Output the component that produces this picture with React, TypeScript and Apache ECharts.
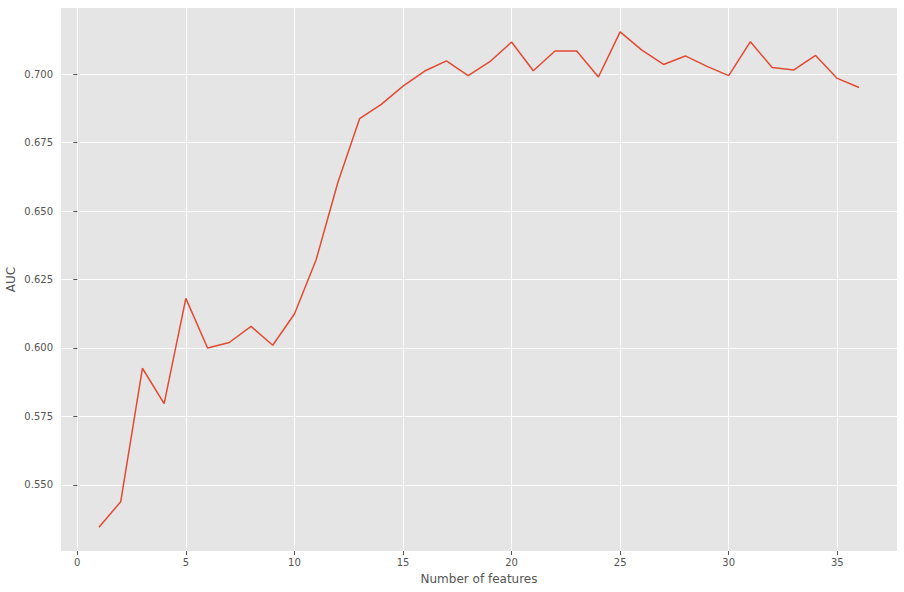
import React, { useEffect, useRef } from "react";
import * as echarts from "echarts";

const featureCounts = [
  1, 2, 3, 4, 5, 6, 7, 8, 9, 10, 11, 12, 13, 14, 15, 16, 17, 18,
  19, 20, 21, 22, 23, 24, 25, 26, 27, 28, 29, 30, 31, 32, 33, 34, 35, 36,
];
const aucValues = [
  0.5346, 0.5439, 0.5926, 0.5797, 0.6181, 0.6, 0.602, 0.6079, 0.601, 0.6124,
  0.6322, 0.6604, 0.6837, 0.6889, 0.6956, 0.7011, 0.7048, 0.6994, 0.7045,
  0.7117, 0.7012, 0.7084, 0.7084, 0.6989, 0.7154, 0.7087, 0.7035, 0.7066,
  0.7028, 0.6994, 0.7118, 0.7024, 0.7015, 0.7068, 0.6984, 0.6951,
];
const xTicks = [0, 5, 10, 15, 20, 25, 30, 35];
const yTicks = [0.55, 0.575, 0.6, 0.625, 0.65, 0.675, 0.7];
const xLabel = "Number of features";
const yLabel = "AUC";

const TEXT = "#555555";
const FONT = "DejaVu Sans";

export default function App() {
  const ref = useRef<HTMLDivElement>(null);
  useEffect(() => {
    if (!ref.current) return;
    const chart = echarts.init(ref.current, null, { renderer: "svg" });
    chart.setOption({
      animation: false,
      backgroundColor: "#ffffff",
      textStyle: { fontFamily: FONT },
      grid: {
        left: 61, top: 8, right: 7, bottom: 41,
        show: true, backgroundColor: "#E5E5E5", borderWidth: 0,
        containLabel: false, outerBoundsMode: "none",
      },
      xAxis: {
        type: "value",
        min: -0.75,
        max: 37.75,
        name: xLabel,
        nameLocation: "middle",
        nameGap: 22,
        nameMoveOverlap: false,
        nameTextStyle: { color: TEXT, fontSize: 12, fontFamily: FONT },
        axisLine: { show: false },
        axisTick: { show: true, length: 4, lineStyle: { color: TEXT, width: 1 }, customValues: xTicks },
        axisLabel: { color: TEXT, fontSize: 10, fontFamily: FONT, margin: 6, customValues: xTicks, formatter: (v: number) => String(v) },
        splitLine: { show: true, lineStyle: { color: "#ffffff", width: 1 } },
      },
      yAxis: {
        type: "value",
        min: 0.5259,
        max: 0.7241,
        name: yLabel,
        nameLocation: "middle",
        nameGap: 44,
        nameMoveOverlap: false,
        nameRotate: 90,
        nameTextStyle: { color: TEXT, fontSize: 12, fontFamily: FONT },
        axisLine: { show: false },
        axisTick: { show: true, length: 4, lineStyle: { color: TEXT, width: 1 }, customValues: yTicks },
        axisLabel: { color: TEXT, fontSize: 10, fontFamily: FONT, margin: 8, customValues: yTicks, formatter: (v: number) => v.toFixed(3) },
        splitLine: { show: true, lineStyle: { color: "#ffffff", width: 1 } },
      },
      series: [
        {
          type: "line",
          data: featureCounts.map((x, i) => [x, aucValues[i]]),
          showSymbol: false,
          symbol: "none",
          lineStyle: { color: "#E24A33", width: 1.5 },
        },
      ],
    });
    return () => chart.dispose();
  }, []);
  return <div ref={ref} style={{ position: "fixed", left: 0, top: 0, width: 904, height: 592 }} />;
}
